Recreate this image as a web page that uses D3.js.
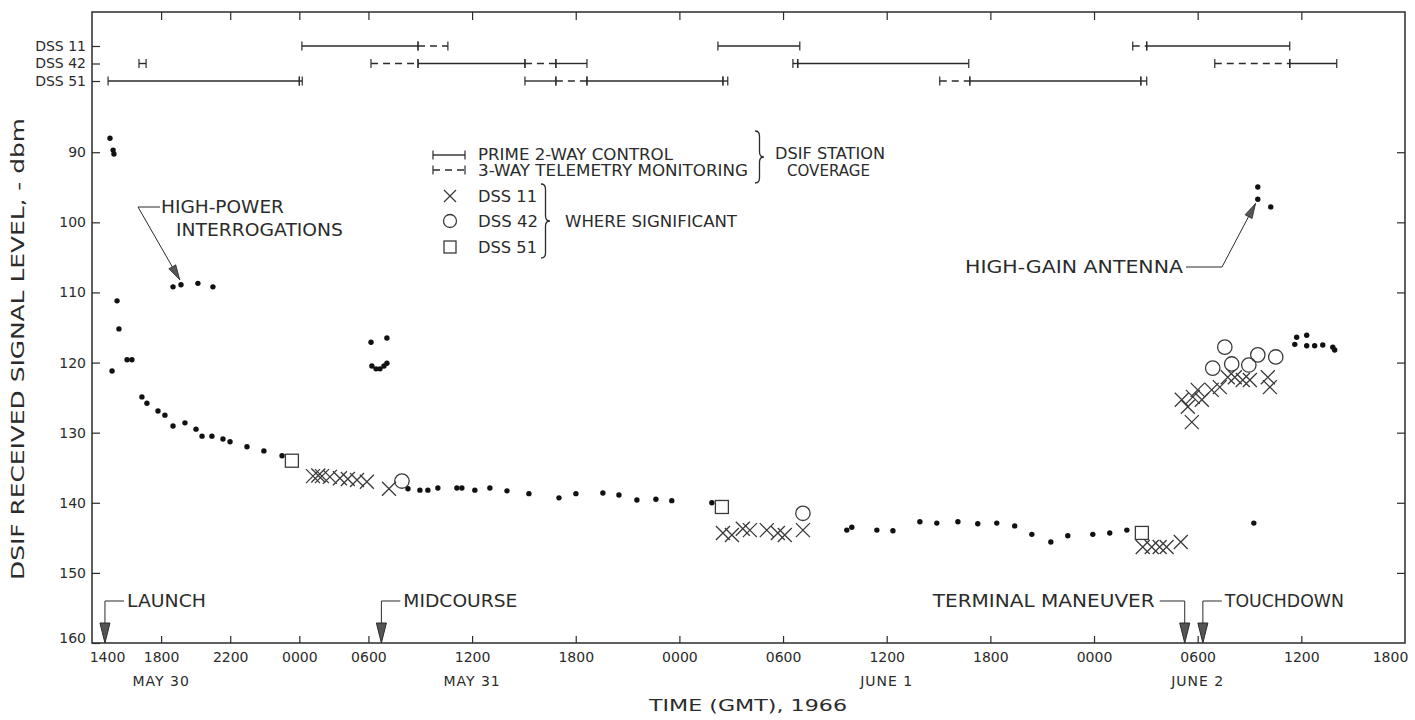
<!DOCTYPE html>
<html><head><meta charset="utf-8">
<script src="https://cdn.jsdelivr.net/npm/d3@7"></script>
<style>
body{margin:0;background:#fff}
svg{display:block}
text{font-family:"DejaVu Sans",sans-serif;fill:#2b2b2b}
</style>
</head><body>
<svg id="c" width="1415" height="720"></svg>
<script>
// ---------------- DATA ----------------
// time in hours since 0000 GMT May 30, 1966; level in -dBm
const signalDots = [
  [15.04,88.0],[15.22,89.7],[15.27,90.25],[15.45,111.2],[15.56,115.2],[15.16,121.2],[16.03,119.6],[16.31,119.6],
  [18.69,109.2],[19.15,108.9],[20.13,108.7],[21.0,109.2],
  [16.89,124.9],[17.18,125.8],[17.82,126.9],[18.22,127.5],[18.69,129.05],[19.38,128.6],[20.02,129.5],[20.37,130.5],
  [20.94,130.5],[21.58,130.9],[21.99,131.3],[22.97,132.0],[23.95,132.6],[25.0,133.3],
  [30.15,117.1],[31.07,116.5],[30.2,120.5],[30.44,120.9],[30.67,120.9],[30.9,120.5],[31.07,120.1],
  [32.29,138.0],[32.98,138.2],[33.44,138.2],[34.02,137.9],[35.12,137.9],[35.41,137.9],[36.16,138.2],[37.03,137.9],
  [38.02,138.3],[39.29,138.7],[41.03,139.3],[42.01,138.7],[43.57,138.6],[44.5,138.9],[45.54,139.6],[46.64,139.5],
  [47.56,139.7],[49.88,140.0],
  [57.69,143.9],[57.98,143.5],[59.43,143.9],[60.36,144.0],[61.92,142.7],[62.9,142.9],[64.12,142.7],[65.27,143.0],
  [66.37,142.9],[67.41,143.3],[68.4,144.5],[69.5,145.6],[70.48,144.7],[71.93,144.5],[72.91,144.3],[73.9,143.9],
  [81.25,142.9],[81.48,94.96],[81.48,96.7],[82.23,97.8],
  [83.73,116.4],[84.31,116.1],[83.62,117.4],[84.31,117.6],[84.77,117.6],[85.24,117.5],[85.82,117.8],[85.93,118.2]
];
const dss11Points = [
  [26.79,136.2],[27.1,136.1],[27.31,136.2],[27.77,136.3],[28.35,136.5],[28.81,136.6],[29.34,136.75],[29.91,137.0],[31.19,138.0],
  [50.52,144.3],[51.04,144.6],[51.67,143.7],[52.08,143.9],[53.06,143.9],[53.7,144.3],[54.1,144.6],[55.15,143.9],
  [74.82,146.3],[75.34,146.3],[75.8,146.3],[76.2,146.3],[77.02,145.6],
  [77.08,125.3],[77.43,126.3],[77.72,124.9],[78.0,123.9],[78.24,125.3],[78.81,123.9],[79.28,123.5],[79.74,122.1],
  [80.15,122.1],[80.61,122.5],[81.02,122.5],[82.06,122.1],[82.18,123.5],[77.66,128.5]
];
const dss42Points = [
  [31.94,136.9],[55.15,141.5],
  [78.87,120.8],[79.57,117.8],[79.97,120.2],[80.96,120.35],[81.48,118.9],[82.52,119.2]
];
const dss51Points = [[25.57,134.0],[50.46,140.6],[74.77,144.3]];

const stations = ["DSS 11","DSS 42","DSS 51"];
// [station, start hour, end hour, kind]
const coverageDss11 = [
  ["DSS 11",26.15,32.87,"prime"],["DSS 11",32.87,34.6,"monitor"],
  ["DSS 11",50.23,54.97,"prime"],
  ["DSS 11",74.24,75.05,"monitor"],["DSS 11",75.05,83.33,"prime"]
];
const coverageDss42 = [
  ["DSS 42",16.72,17.13,"prime"],
  ["DSS 42",30.15,32.87,"monitor"],["DSS 42",32.87,39.06,"prime"],["DSS 42",39.06,40.85,"monitor"],["DSS 42",40.85,42.65,"prime"],
  ["DSS 42",54.57,54.85,"prime"],["DSS 42",54.85,64.75,"prime"],
  ["DSS 42",78.99,83.33,"monitor"],["DSS 42",83.33,86.05,"prime"]
];
const coverageDss51 = [
  ["DSS 51",14.93,26.0,"prime"],["DSS 51",26.0,26.17,"prime"],
  ["DSS 51",39.06,40.85,"prime"],["DSS 51",40.85,42.65,"monitor"],["DSS 51",42.65,50.52,"prime"],["DSS 51",50.52,50.8,"prime"],
  ["DSS 51",63.07,64.81,"monitor"],["DSS 51",64.81,74.71,"prime"],["DSS 51",74.71,75.05,"prime"]
];

const tickHours = [18,22,26,30,36,42,48,54,60,66,72,78,84];
const timeLabelHours = [14,18,22,26,30,36,42,48,54,60,66,72,78,84,90];
const timeLabels = ["1400","1800","2200","0000","0600","1200","1800","0000","0600","1200","1800","0000","0600","1200","1800"];
const dayLabelHours = [18,36,60,78];
const dayLabels = ["MAY 30","MAY 31","JUNE 1","JUNE 2"];
const levelTicks = [90,100,110,120,130,140,150,160];
const events = [
  {name:"LAUNCH", hour:14.75, side:"right"},
  {name:"MIDCOURSE", hour:30.75, side:"right"},
  {name:"TERMINAL MANEUVER", hour:77.25, side:"left"},
  {name:"TOUCHDOWN", hour:78.3, side:"right"}
];

// ---------------- DRAWING ----------------
const ink = "#2b2b2b";
const svg = d3.select("#c");
const x = d3.scaleLinear().domain([14, 90]).range([92, 1405]);
const y = d3.scaleLinear().domain([70, 160]).range([12, 643]);
const sy = d3.scalePoint().domain(stations).range([46, 81]);

function styleAxis(sel, fs){
  sel.select(".domain").remove();
  sel.selectAll(".tick line").attr("stroke", ink).attr("stroke-width", 1.2);
  sel.selectAll(".tick text").attr("font-family", "DejaVu Sans").attr("font-size", fs).attr("fill", ink);
}

// frame
svg.append("rect")
  .attr("x", x(14)).attr("y", y(70))
  .attr("width", x(90) - x(14)).attr("height", y(160) - y(70))
  .attr("fill", "none").attr("stroke", ink).attr("stroke-width", 1.5);

// left axis
const gl = svg.append("g").attr("transform", `translate(${x(14)},0)`)
  .call(d3.axisLeft(y).tickValues(levelTicks).tickSize(-8).tickPadding(6));
styleAxis(gl, 14);
gl.selectAll(".tick").filter(d => d === 160).select("text").attr("dy", "-0.05em");

// right axis ticks
const gr = svg.append("g").attr("transform", `translate(${x(90)},0)`)
  .call(d3.axisRight(y).tickValues(levelTicks.filter(v => v < 160)).tickSize(-8).tickFormat(""));
styleAxis(gr, 14);

// top axis ticks
const gt = svg.append("g").attr("transform", `translate(0,${y(70)})`)
  .call(d3.axisTop(x).tickValues(tickHours).tickSize(-8).tickFormat(""));
styleAxis(gt, 14);

// bottom axis ticks + labels
const gb = svg.append("g").attr("transform", `translate(0,${y(160)})`)
  .call(d3.axisBottom(x).tickValues(timeLabelHours).tickSize(-7).tickPadding(9)
    .tickFormat((d, i) => timeLabels[i]));
styleAxis(gb, 14);
gb.selectAll(".tick").filter(d => d === 14 || d === 90).select("line").remove();
gb.selectAll(".tick").filter(d => d === 14).select("text").attr("dx", 15);
gb.selectAll(".tick").filter(d => d === 90).select("text").attr("dx", -15);

// day labels
svg.append("g").selectAll("text").data(dayLabels).join("text")
  .attr("x", (d, i) => x(dayLabelHours[i])).attr("y", 686)
  .attr("text-anchor", "middle").attr("font-size", 14).attr("letter-spacing", 1)
  .text(d => d);

// axis titles
svg.append("text").attr("x", 748).attr("y", 711).attr("text-anchor", "middle")
  .attr("font-size", 15).attr("textLength", 198).attr("lengthAdjust", "spacingAndGlyphs")
  .text("TIME (GMT), 1966");
svg.append("text").attr("transform", "translate(23.5,349) rotate(-90)")
  .attr("text-anchor", "middle").attr("font-size", 17)
  .attr("textLength", 462).attr("lengthAdjust", "spacingAndGlyphs")
  .text("DSIF RECEIVED SIGNAL LEVEL, - dbm");

// station axis
const gs = svg.append("g").attr("transform", `translate(${x(14)},0)`)
  .call(d3.axisLeft(sy).tickSize(-8).tickPadding(6));
styleAxis(gs, 14);

// coverage bars
const coverage = [...coverageDss11, ...coverageDss42, ...coverageDss51];
const gc = svg.append("g");
coverage.forEach(([st, a, b, kind]) => {
  const yy = sy(st);
  gc.append("line").attr("x1", x(a)).attr("x2", x(b)).attr("y1", yy).attr("y2", yy)
    .attr("stroke", ink).attr("stroke-width", 1.4)
    .attr("stroke-dasharray", kind === "monitor" ? "7,5" : null);
  [a, b].forEach(h => gc.append("line").attr("x1", x(h)).attr("x2", x(h))
    .attr("y1", yy - 4.5).attr("y2", yy + 4.5).attr("stroke", ink).attr("stroke-width", 1.2));
});

// data: dots
svg.append("g").selectAll("circle").data(signalDots).join("circle")
  .attr("cx", d => x(d[0])).attr("cy", d => y(d[1])).attr("r", 2.7).attr("fill", "#111");

// DSS 11 crosses
const crossPath = "M-7,-7L7,7M-7,7L7,-7";
svg.append("g").selectAll("path").data(dss11Points).join("path")
  .attr("transform", d => `translate(${x(d[0])},${y(d[1])})`)
  .attr("d", crossPath).attr("stroke", "#3a3a3a").attr("stroke-width", 1.3).attr("fill", "none");
// DSS 42 circles
svg.append("g").selectAll("circle").data(dss42Points).join("circle")
  .attr("cx", d => x(d[0])).attr("cy", d => y(d[1])).attr("r", 7.2)
  .attr("fill", "none").attr("stroke", "#3a3a3a").attr("stroke-width", 1.3);
// DSS 51 squares
svg.append("g").selectAll("rect").data(dss51Points).join("rect")
  .attr("x", d => x(d[0]) - 6.5).attr("y", d => y(d[1]) - 6.5).attr("width", 13).attr("height", 13)
  .attr("fill", "none").attr("stroke", "#3a3a3a").attr("stroke-width", 1.3);

// ---------------- text helpers ----------------
function label(txt, x0, yc, width, size = 17){
  const t = svg.append("text").attr("x", x0).attr("y", yc + size * 0.365)
    .attr("font-size", size).text(txt);
  if (width) t.attr("textLength", width).attr("lengthAdjust", "spacingAndGlyphs");
  return t;
}
function line(pts, w = 1.1){
  svg.append("path").attr("d", d3.line()(pts)).attr("fill", "none").attr("stroke", ink).attr("stroke-width", w);
}
function arrowHead(x0, y0, x1, y1, L = 15, hw = 4){
  const a = Math.atan2(y1 - y0, x1 - x0);
  const bx = x1 - L * Math.cos(a), by = y1 - L * Math.sin(a);
  const px = -Math.sin(a) * hw, py = Math.cos(a) * hw;
  svg.append("path").attr("d", `M${x1},${y1}L${bx + px},${by + py}L${bx - px},${by - py}Z`)
    .attr("fill", "#555").attr("stroke", ink).attr("stroke-width", 0.8);
}
function brace(x0, y0, y1, w, r = 5){
  const xm = x0 + w / 2, ym = (y0 + y1) / 2;
  const d = `M${x0},${y0}Q${xm},${y0} ${xm},${y0 + r}L${xm},${ym - r}Q${xm},${ym} ${x0 + w},${ym}` +
            `Q${xm},${ym} ${xm},${ym + r}L${xm},${y1 - r}Q${xm},${y1} ${x0},${y1}`;
  svg.append("path").attr("d", d).attr("fill", "none").attr("stroke", ink).attr("stroke-width", 1.3);
}

// ---------------- legend ----------------
line([[433,155],[465,155]], 1.4);
line([[433,150.5],[433,159.5]], 1.2); line([[465,150.5],[465,159.5]], 1.2);
svg.append("path").attr("d", "M433,170L465,170").attr("stroke", ink).attr("stroke-width", 1.4).attr("stroke-dasharray", "7,5");
line([[433,165.5],[433,174.5]], 1.2); line([[465,165.5],[465,174.5]], 1.2);
label("PRIME 2-WAY CONTROL", 478, 155, 195, 15);
label("3-WAY TELEMETRY MONITORING", 478, 171, 270, 15);
brace(755, 131, 183, 9);
label("DSIF STATION", 775, 153.5, 110, 15);
label("COVERAGE", 787, 171, 83, 15);

svg.append("path").attr("transform", "translate(450,196)").attr("d", "M-6,-6L6,6M-6,6L6,-6")
  .attr("stroke", "#3a3a3a").attr("stroke-width", 1.3).attr("fill", "none");
svg.append("circle").attr("cx", 450).attr("cy", 221).attr("r", 6.5)
  .attr("fill", "none").attr("stroke", "#3a3a3a").attr("stroke-width", 1.3);
svg.append("rect").attr("x", 444).attr("y", 241).attr("width", 12).attr("height", 12)
  .attr("fill", "none").attr("stroke", "#3a3a3a").attr("stroke-width", 1.3);
label("DSS 11", 478, 196, 59, 16);
label("DSS 42", 478, 221, 60, 16);
label("DSS 51", 478, 247, 59, 16);
brace(541, 184, 258, 9);
label("WHERE SIGNIFICANT", 565, 221, 172, 16);

// ---------------- annotations ----------------
// high-power interrogations
{
  const tx = x(19.08), ty = y(108.2);
  line([[160,207],[138,207],[tx,ty]], 1.0);
  arrowHead(138, 207, tx, ty);
  label("HIGH-POWER", 161, 207, 123);
  label("INTERROGATIONS", 176, 230, 167);
}
// high-gain antenna
{
  const tx = x(81.35), ty = y(97.3);
  line([[1186,267],[1222,267],[tx,ty]], 1.0);
  arrowHead(1222, 267, tx, ty);
  label("HIGH-GAIN ANTENNA", 965, 267, 218);
}
// event markers on time axis
const eventWidths = {"LAUNCH":79, "MIDCOURSE":114, "TERMINAL MANEUVER":222, "TOUCHDOWN":119};
events.forEach(ev => {
  const xe = x(ev.hour);
  const yl = 601, yb = y(160);
  if (ev.side === "right") {
    line([[xe + 19, yl],[xe, yl],[xe, yb - 20]], 1.0);
    label(ev.name, xe + 22, yl, eventWidths[ev.name]);
  } else {
    line([[xe - 25, yl],[xe, yl],[xe, yb - 20]], 1.0);
    label(ev.name, xe - 30 - eventWidths[ev.name], yl, eventWidths[ev.name]);
  }
  svg.append("path").attr("d", `M${xe - 5},${yb - 20}L${xe + 5},${yb - 20}L${xe},${yb}Z`)
    .attr("fill", "#555").attr("stroke", ink).attr("stroke-width", 1);
});
</script>
</body></html>
